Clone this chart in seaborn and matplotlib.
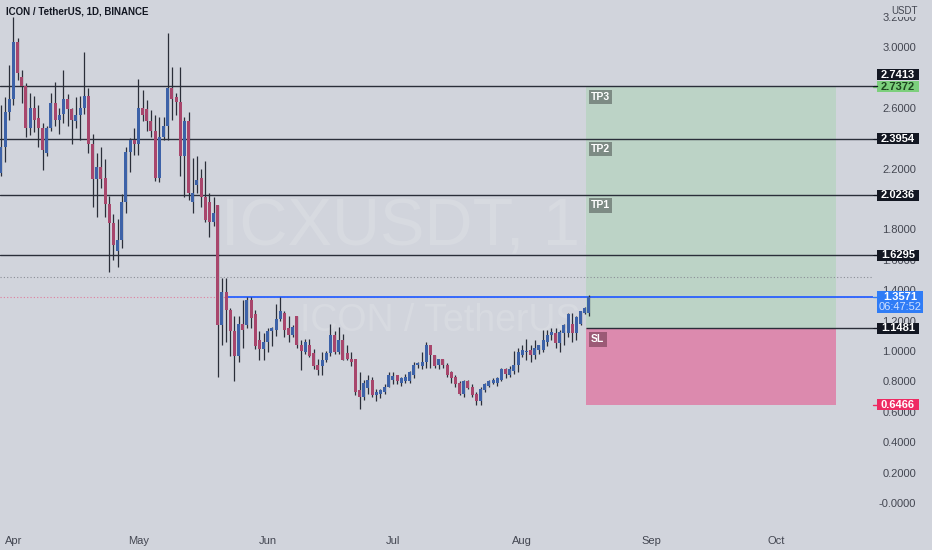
import matplotlib
matplotlib.use("Agg")
import matplotlib.pyplot as plt
import matplotlib.dates as mdates
from matplotlib.patches import Rectangle
from matplotlib.lines import Line2D
import seaborn as sns
import numpy as np
import pandas as pd

# ---------------- data ----------------
first_day = "2021-03-29"
opens = [2.17, 2.34, 2.57, 2.66, 3.03, 2.80, 2.74, 2.47, 2.60, 2.53, 2.47, 2.30, 2.47, 2.63,
         2.52, 2.56, 2.66, 2.59, 2.51, 2.55, 2.60, 2.68, 2.36, 2.13, 2.21, 2.14, 1.97, 1.84,
         1.66, 1.73, 1.98, 2.31, 2.39, 2.36, 2.60, 2.59, 2.51, 2.45, 2.14, 2.41, 2.48, 2.73,
         2.67, 2.64, 2.28, 2.51, 1.98, 2.09, 2.14, 2.01, 1.98, 1.85, 1.96, 1.17, 1.39, 1.27,
         1.13, 0.97, 1.18, 1.17, 1.336, 1.24, 1.07, 1.01, 1.06, 1.13, 1.14, 1.21, 1.25, 1.15,
         1.105, 1.23, 1.04, 0.995, 1.04, 0.985, 0.91, 0.90, 0.94, 0.985, 1.105, 0.995, 1.07,
         0.985, 0.95, 0.95, 0.74, 0.70, 0.755, 0.81, 0.71, 0.72, 0.73, 0.765, 0.81, 0.84, 0.79,
         0.80, 0.80, 0.84, 0.905, 0.90, 0.93, 1.04, 0.975, 0.91, 0.95, 0.91, 0.86, 0.83, 0.79,
         0.72, 0.80, 0.765, 0.72, 0.67, 0.745, 0.77, 0.79, 0.79, 0.81, 0.88, 0.84, 0.865, 0.905,
         0.975, 0.99, 1.005, 0.975, 1.005, 1.005, 1.06, 1.105, 1.115, 1.05, 1.115, 1.12, 1.18,
         1.115, 1.18, 1.25, 1.25]
highs = [2.62, 2.67, 2.88, 3.20, 3.06, 2.85, 2.76, 2.70, 2.68, 2.62, 2.50, 2.48, 2.70, 2.77,
         2.60, 2.85, 2.69, 2.60, 2.67, 2.68, 2.97, 2.73, 2.43, 2.30, 2.34, 2.26, 2.02, 1.90,
         1.87, 2.03, 2.34, 2.40, 2.47, 2.79, 2.72, 2.65, 2.585, 2.55, 2.54, 2.54, 3.09, 2.87,
         2.70, 2.87, 2.54, 2.57, 2.27, 2.28, 2.20, 2.25, 2.04, 2.015, 1.96, 1.48, 1.48, 1.28,
         1.23, 1.23, 1.336, 1.357, 1.357, 1.27, 1.13, 1.12, 1.15, 1.16, 1.31, 1.357, 1.26, 1.23,
         1.17, 1.23, 1.07, 1.08, 1.08, 1.01, 0.95, 0.99, 1.00, 1.18, 1.13, 1.16, 1.11, 1.04,
         0.99, 0.95, 0.86, 0.81, 0.84, 0.83, 0.75, 0.75, 0.78, 0.86, 0.86, 0.84, 0.83, 0.85,
         0.87, 0.93, 0.93, 0.99, 1.06, 1.04, 0.975, 0.95, 0.95, 0.92, 0.87, 0.84, 0.80, 0.81,
         0.81, 0.78, 0.73, 0.76, 0.79, 0.81, 0.82, 0.83, 0.89, 0.89, 0.90, 1.00, 1.02, 1.04,
         1.08, 1.04, 1.07, 1.04, 1.14, 1.14, 1.15, 1.15, 1.14, 1.18, 1.25, 1.25, 1.23, 1.265,
         1.29, 1.37]
lows = [2.15, 2.24, 2.52, 2.62, 2.78, 2.63, 2.41, 2.42, 2.44, 2.34, 2.19, 2.28, 2.45, 2.48,
        2.43, 2.50, 2.48, 2.36, 2.47, 2.39, 2.56, 2.30, 1.95, 1.88, 2.07, 1.88, 1.52, 1.60,
        1.55, 1.68, 1.91, 2.18, 2.29, 2.29, 2.51, 2.45, 2.41, 2.12, 2.11, 2.39, 2.39, 2.52,
        2.55, 2.15, 2.015, 1.99, 1.91, 2.04, 1.95, 1.85, 1.75, 1.82, 0.83, 1.04, 1.06, 0.97,
        0.80, 0.93, 1.02, 1.15, 1.15, 1.01, 0.94, 0.94, 0.99, 1.03, 1.10, 1.20, 1.09, 1.06,
        1.09, 1.02, 0.875, 0.98, 0.96, 0.88, 0.84, 0.84, 0.93, 0.97, 0.98, 0.98, 0.94, 0.94,
        0.90, 0.71, 0.62, 0.68, 0.72, 0.70, 0.67, 0.69, 0.72, 0.76, 0.78, 0.78, 0.77, 0.79,
        0.79, 0.82, 0.89, 0.88, 0.89, 0.89, 0.89, 0.88, 0.89, 0.83, 0.79, 0.76, 0.71, 0.70,
        0.75, 0.70, 0.645, 0.645, 0.73, 0.76, 0.78, 0.77, 0.80, 0.82, 0.83, 0.85, 0.86, 0.96,
        0.94, 0.93, 0.95, 0.98, 0.99, 1.03, 1.07, 1.02, 0.995, 1.04, 1.09, 1.06, 1.07, 1.17,
        1.24, 1.23]
closes = [2.34, 2.57, 2.66, 3.03, 2.83, 2.74, 2.47, 2.60, 2.52, 2.47, 2.32, 2.47, 2.63, 2.52,
          2.55, 2.66, 2.59, 2.52, 2.55, 2.60, 2.68, 2.36, 2.13, 2.21, 2.13, 1.97, 1.84, 1.70,
          1.73, 1.98, 2.31, 2.39, 2.36, 2.60, 2.55, 2.51, 2.45, 2.14, 2.41, 2.48, 2.73, 2.66,
          2.64, 2.28, 2.51, 2.04, 2.04, 2.125, 2.015, 1.86, 1.85, 1.91, 1.17, 1.39, 1.27, 1.13,
          0.97, 1.18, 1.14, 1.336, 1.215, 1.03, 1.01, 1.06, 1.13, 1.15, 1.21, 1.26, 1.14, 1.105,
          1.16, 1.04, 1.00, 1.06, 0.97, 0.90, 0.875, 0.94, 0.985, 1.105, 0.995, 1.07, 0.94,
          0.95, 0.93, 0.73, 0.70, 0.79, 0.81, 0.71, 0.73, 0.74, 0.765, 0.84, 0.835, 0.80, 0.82,
          0.83, 0.86, 0.91, 0.92, 0.93, 1.04, 0.975, 0.90, 0.945, 0.91, 0.84, 0.82, 0.78, 0.72,
          0.80, 0.755, 0.71, 0.67, 0.75, 0.78, 0.80, 0.81, 0.82, 0.88, 0.85, 0.88, 0.905, 0.995,
          1.005, 1.00, 0.975, 1.02, 1.04, 1.07, 1.105, 1.125, 1.05, 1.125, 1.17, 1.245, 1.115,
          1.225, 1.26, 1.28, 1.357]

tp_levels = [2.7413, 2.3954, 2.0236, 1.6295]
tp_names = ["TP3", "TP2", "TP1"]
tp_name_levels = [2.7372, 2.3954, 2.0236]
target_top = 2.7372
entry = 1.1481
stop = 0.6466
last_price = 1.3571
countdown = "06:47:52"
ray_level = 1.3571
ray_start = "2021-05-22"
dotted_level = 1.487
box_start = "2021-08-16 07:00"
box_end = "2021-10-15 07:00"
y_ticks = [3.2, 3.0, 2.6, 2.2, 1.8, 1.6, 1.4, 1.2, 1.0, 0.8, 0.6, 0.4, 0.2, 0.0]
month_starts = ["2021-04-01", "2021-05-01", "2021-06-01", "2021-07-01",
                "2021-08-01", "2021-09-01", "2021-10-01"]
month_labels = ["Apr", "May", "Jun", "Jul", "Aug", "Sep", "Oct"]
title = "ICON / TetherUS, 1D, BINANCE"
watermark1 = "ICXUSDT, 1D"
watermark2 = "ICON / TetherUS"

# ---------------- style ----------------
BG = "#d1d4dc"
UP = "#3d62a8"
DOWN = "#a8466c"
WICK = "#2a2e39"
LINE = "#2a2e39"
TXT = "#434651"

sns.set_theme(style="white", rc={"axes.facecolor": BG, "figure.facecolor": BG})
plt.rcParams["font.family"] = ["Liberation Sans", "DejaVu Sans"]

W, H = 932, 550
PLOT_R, PLOT_B = 873, 525
Y_MIN, Y_MAX = -0.145, 3.309

fig = plt.figure(figsize=(W / 100, H / 100), dpi=100, facecolor=BG)
ax = fig.add_axes([0, (H - PLOT_B) / H, PLOT_R / W, PLOT_B / H])
ax.set_facecolor(BG)
for s in ax.spines.values():
    s.set_visible(False)

o = np.array(opens); h = np.array(highs); l = np.array(lows); c = np.array(closes)
dates = pd.date_range(first_day, periods=len(o), freq="D")
df = pd.DataFrame({"date": dates, "open": o, "high": h, "low": l, "close": c})
df["up"] = df["close"] >= df["open"]

ref0 = pd.Timestamp("2021-04-01")
ax.set_xlim(ref0 - pd.Timedelta(days=3.2), ref0 + pd.Timedelta(days=206.1))
ax.set_ylim(Y_MIN, Y_MAX)
xr = ax.get_xlim()[1]

# watermark
ax.text(425 / PLOT_R, 1 - 228 / PLOT_B, watermark1, transform=ax.transAxes, ha="center",
        va="center", fontsize=48, color="white", alpha=0.14, zorder=0.5)
ax.text(440 / PLOT_R, 1 - 321 / PLOT_B, watermark2, transform=ax.transAxes, ha="center",
        va="center", fontsize=27, color="white", alpha=0.14, zorder=0.5)

# risk / reward boxes
bs, be = pd.Timestamp(box_start), pd.Timestamp(box_end)
ax.fill_between([bs, be], entry, target_top, color="#bcd3c6", lw=0, zorder=1)
ax.fill_between([bs, be], stop, entry, color="#dc8aae", lw=0, zorder=1)

# horizontal levels
for v in tp_levels:
    ax.axhline(v, color=LINE, lw=1.0, zorder=2)
ax.hlines(entry, mdates.date2num(bs), xr, color=LINE, lw=1.0, zorder=2)
ax.axhline(dotted_level, color="#8a8d96", lw=0.8, ls=(0, (1, 2)), zorder=2)
ax.axhline(last_price, color="#e07d9d", lw=0.8, ls=(0, (1, 2)), zorder=2)
ax.hlines(ray_level, mdates.date2num(pd.Timestamp(ray_start)), xr, color="#2962ff", lw=1.3, zorder=2.5)

# candles
ax.vlines(df["date"], df["low"], df["high"], color=WICK, lw=0.9, zorder=3)
ax.bar(df["date"], np.maximum((df["close"] - df["open"]).abs(), 0.006),
       bottom=np.minimum(df["open"], df["close"]), width=0.72,
       color=np.where(df["up"], UP, DOWN), lw=0, zorder=4)

# box labels
for name, lv in zip(tp_names, tp_name_levels):
    ax.annotate(name, xy=(bs, lv), xytext=(5, -5), textcoords="offset pixels", ha="left",
                va="top", fontsize=7.5, fontweight="bold", color="white", zorder=6,
                bbox=dict(boxstyle="square,pad=0.22", fc="#7d8b84", ec="none"))
ax.annotate("SL", xy=(bs, entry), xytext=(5, -6), textcoords="offset pixels", ha="left",
            va="top", fontsize=7.5, fontweight="bold", color="white", zorder=6,
            bbox=dict(boxstyle="square,pad=0.22", fc="#9c5a76", ec="none"))

# title
ax.text(6 / PLOT_R, 1 - 12 / PLOT_B, title, transform=ax.transAxes, ha="left", va="center",
        fontsize=7, fontweight="bold", color="#131722", zorder=10)

# axes ticks
ax.yaxis.tick_right()
ax.set_yticks(y_ticks)
ax.set_yticklabels(["-0.0000" if v == 0 else f"{v:.4f}" for v in y_ticks])
ax.tick_params(axis="y", length=0, pad=31, labelsize=8, labelcolor=TXT)
for lbl in ax.get_yticklabels():
    lbl.set_horizontalalignment("right")
ax.set_xticks(pd.to_datetime(month_starts))
ax.set_xticklabels(month_labels)
ax.tick_params(axis="x", length=0, pad=8, labelsize=8, labelcolor=TXT)
ax.grid(False)

# price-axis labels
def frac(v):
    return (v - Y_MIN) / (Y_MAX - Y_MIN)

BOX_H = 11 / PLOT_B
labels = [
    dict(v=stop, t=f"{stop:.4f}", bg="#ee2a62", fg="white"),
    dict(v=entry, t=f"{entry:.4f}", bg="#131722", fg="white"),
    dict(v=last_price, t=f"{last_price:.4f}", bg="#2f7cf6", fg="white", sub=countdown),
    dict(v=1.6295, t="1.6295", bg="#131722", fg="white"),
    dict(v=2.0236, t="2.0236", bg="#131722", fg="white"),
    dict(v=2.3954, t="2.3954", bg="#131722", fg="white"),
    dict(v=target_top, t=f"{target_top:.4f}", bg="#7ccf7c", fg="#1e4620"),
    dict(v=2.7413, t="2.7413", bg="#131722", fg="white"),
]
prev_top = -1
for lab in labels:
    fy = frac(lab["v"])
    if fy - BOX_H / 2 < prev_top + 1 / PLOT_B:
        fy = prev_top + 1 / PLOT_B + BOX_H / 2
    two = "sub" in lab
    wpx = 46 if two else 42
    top = fy + BOX_H / 2
    bot = top - (22 / PLOT_B if two else BOX_H)
    ax.add_patch(Rectangle((877 / PLOT_R, bot), wpx / PLOT_R, top - bot, transform=ax.transAxes,
                           fc=lab["bg"], ec="none", clip_on=False, zorder=9))
    ax.add_line(Line2D([873 / PLOT_R, 877 / PLOT_R], [frac(lab["v"])] * 2, transform=ax.transAxes,
                       color=lab["bg"], lw=1, clip_on=False, zorder=9))
    ax.text((877 + wpx / 2) / PLOT_R, fy, lab["t"], transform=ax.transAxes, ha="center",
            va="center", fontsize=8, fontweight="bold", color=lab["fg"], clip_on=False, zorder=10)
    if two:
        ax.text((877 + wpx / 2) / PLOT_R, fy - 10.5 / PLOT_B, lab["sub"], transform=ax.transAxes,
                ha="center", va="center", fontsize=8, color="#cfe0ff", clip_on=False, zorder=10)
    prev_top = top

fig.text(904 / W, 1 - 11 / H, "USDT", ha="center", va="center", fontsize=7, color=TXT,
         bbox=dict(boxstyle="square,pad=0.15", fc=BG, ec="none"), zorder=11)

fig.savefig("out.png", dpi=100, facecolor=BG)
